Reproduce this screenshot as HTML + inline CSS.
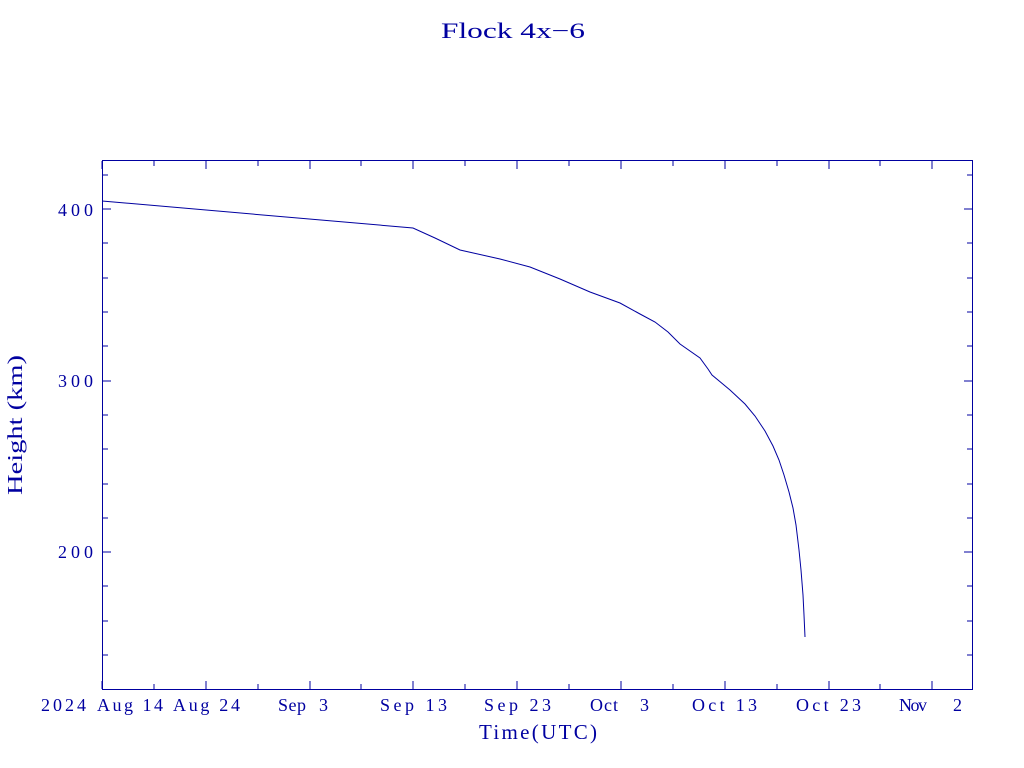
<!DOCTYPE html>
<html><head><style>body{margin:0;background:#fff}svg{display:block}</style></head><body>
<svg width="1024" height="768" xmlns="http://www.w3.org/2000/svg" font-family="Liberation Serif, serif" fill="#0000a0">
<rect width="1024" height="768" fill="#fff"/>
<text x="441" y="38" font-size="22" textLength="144" lengthAdjust="spacingAndGlyphs">Flock 4x−6</text>
<g stroke="#0000a0" stroke-width="1" fill="none">
<rect x="102.5" y="160.5" width="870" height="529"/>
<path d="M102,689v-8M206,689v-8M310,689v-8M413,689v-8M517,689v-8M621,689v-8M725,689v-8M829,689v-8M932,689v-8
M154,689v-5M258,689v-5M361,689v-5M465,689v-5M569,689v-5M673,689v-5M777,689v-5M880,689v-5
M102,161v8M206,161v8M310,161v8M413,161v8M517,161v8M621,161v8M725,161v8M829,161v8M932,161v8
M154,161v5M258,161v5M361,161v5M465,161v5M569,161v5M673,161v5M777,161v5M880,161v5
M103,209h8M103,381h8M103,552h8M972,209h-8M972,381h-8M972,552h-8
M103,175h5M103,243h5M103,278h5M103,312h5M103,346h5M103,415h5M103,449h5M103,484h5M103,518h5M103,586h5M103,621h5M103,655h5
M972,175h-5M972,243h-5M972,278h-5M972,312h-5M972,346h-5M972,415h-5M972,449h-5M972,484h-5M972,518h-5M972,586h-5M972,621h-5M972,655h-5"/>
<path d="M102,201 L413,228 L435,238 L460,250 L500,259 L530,267 L560,279 L590,292 L620,303 L640,314 L655,322 L668,332 L680,344 L700,358 L708,369 L712,375 L730,390 L745,404 L755,416 L765,431 L773,446 L779,460 L784,475 L789,492 L793,508 L796,525 L799,550 L801,570 L803,595 L804,615 L805,637"/>
</g>
<g font-size="18" lengthAdjust="spacingAndGlyphs">
<text x="41" y="711" textLength="45">2024</text>
<text x="97" y="711" textLength="66">Aug 14</text>
<text x="173" y="711" textLength="67">Aug 24</text>
<text x="278" y="711" textLength="28">Sep</text><text x="319" y="711" textLength="23">3</text>
<text x="380" y="711" textLength="67">Sep 13</text>
<text x="484" y="711" textLength="67">Sep 23</text>
<text x="590" y="711" textLength="28">Oct</text><text x="640" y="711" textLength="12">3</text>
<text x="692" y="711" textLength="65">Oct 13</text>
<text x="796" y="711" textLength="65">Oct 23</text>
<text x="899" y="711" textLength="28">Nov</text><text x="953" y="711" textLength="12">2</text>
<text x="479" y="739" font-size="21" textLength="118">Time(UTC)</text>
<text x="58" y="216" textLength="35">400</text>
<text x="58" y="387" textLength="35">300</text>
<text x="58" y="558" textLength="35">200</text>
</g>
<text transform="translate(22,495) rotate(-90)" font-size="21" textLength="140" lengthAdjust="spacingAndGlyphs">Height (km)</text>
</svg>
</body></html>
